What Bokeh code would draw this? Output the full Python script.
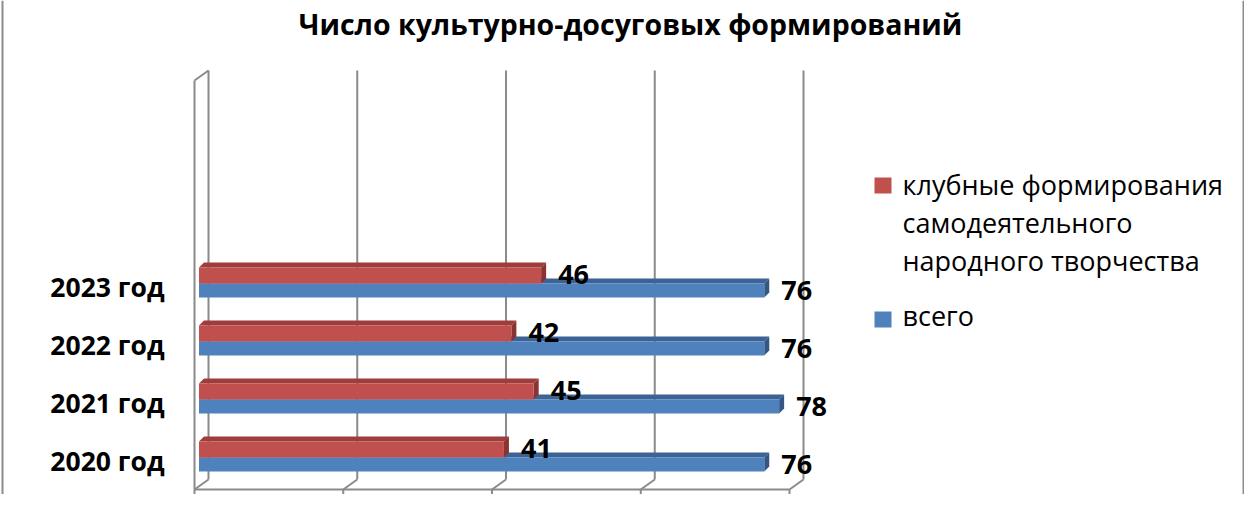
from bokeh.plotting import figure
from bokeh.models import Range1d
from bokeh.core.properties import value
from bokeh.embed import file_html
from bokeh.resources import INLINE

# ---------------- data ----------------
title_text = "Число культурно-досуговых формирований"
categories = ["2020 год", "2021 год", "2022 год", "2023 год"]
club = [41, 45, 42, 46]
total = [76, 78, 76, 76]
legend_club = ["клубные формирования", "самодеятельного", "народного творчества"]
legend_total = "всего"
grid_values = [0, 20, 40, 60, 80]

# ---------------- geometry (picture pixels -> data) ----------------
W, H = 1244, 494
OFF = 0
X0 = 198.5          # x of value 0 on the bar front face
SX = 148.75 / 20    # px per unit
Y0 = 457            # y of first category's bar split
SY = 58             # px per category
TXT = 11            # text vertical correction (px)


def xd(px):
    return (px - X0) / SX


def yd(py):
    return (Y0 - py) / SY


def lx(px):
    return px / SX


def ly(py):
    return py / SY


RED = "#C0504D"
RED_TOP = "#9E3D3A"
RED_SIDE = "#8A3330"
BLUE = "#4F81BD"
BLUE_TOP = "#3B6396"
BLUE_SIDE = "#335782"
GRID = "#8A8A8A"

p = figure(width=W, height=H, x_range=Range1d(xd(OFF), xd(OFF + W)),
           y_range=Range1d(yd(OFF + H), yd(OFF)),
           output_backend="svg", toolbar_location=None,
           x_axis_type=None, y_axis_type=None, min_border=0,
           outline_line_color=None, background_fill_color="white",
           border_fill_color="white")
p.grid.visible = False

ks = list(range(len(categories)))

# ---------------- 3D walls / floor / grid ----------------
front_shift = -lx(4.5)
depth_x = lx(14)
y_floor_front, y_floor_back = yd(489), yd(479)
y_top_front, y_top_back = yd(80), yd(70)

gx_front = [g + front_shift for g in grid_values]
gx_back = [x + depth_x for x in gx_front]

# back wall gridlines
p.segment(x0=gx_back, y0=[y_floor_back] * len(gx_back), x1=gx_back,
          y1=[y_top_back] * len(gx_back), line_color=GRID, line_width=2)
# left side wall
p.segment(x0=[gx_front[0], gx_front[0]], y0=[y_floor_front, y_top_front],
          x1=[gx_front[0], gx_back[0]], y1=[y_top_front, y_top_back],
          line_color=GRID, line_width=2)
# floor front edge, diagonals, ticks
p.segment(x0=[gx_front[0]], y0=[y_floor_front], x1=[gx_front[-1]], y1=[y_floor_front],
          line_color=GRID, line_width=2)
p.segment(x0=gx_front, y0=[y_floor_front] * len(gx_front), x1=gx_back,
          y1=[y_floor_back] * len(gx_back), line_color=GRID, line_width=2)
p.segment(x0=gx_front, y0=[y_floor_front] * len(gx_front), x1=gx_front,
          y1=[yd(498)] * len(gx_front), line_color=GRID, line_width=2)

# ---------------- bars ----------------
dX, dY = lx(5), ly(5)
red_h, blue_h = ly(16), ly(14)


def faces(vals, top_off, bot_off):
    tops_x, tops_y, sides_x, sides_y = [], [], [], []
    for k, v in zip(ks, vals):
        t, b = k + top_off, k + bot_off
        tops_x.append([0, dX, v + dX, v])
        tops_y.append([t, t + dY, t + dY, t])
        sides_x.append([v, v + dX, v + dX, v])
        sides_y.append([t, t + dY, b + dY, b])
    return tops_x, tops_y, sides_x, sides_y


bt_x, bt_y, bs_x, bs_y = faces(total, 0, -blue_h)
p.patches(bt_x, bt_y, fill_color=BLUE_TOP, line_color=None)
p.patches(bs_x, bs_y, fill_color=BLUE_SIDE, line_color=None)
p.hbar(y=[k - blue_h / 2 for k in ks], height=blue_h, left=0, right=total,
       fill_color=BLUE, line_color=None)

rt_x, rt_y, rs_x, rs_y = faces(club, red_h, 0)
p.patches(rt_x, rt_y, fill_color=RED_TOP, line_color=None)
p.patches(rs_x, rs_y, fill_color=RED_SIDE, line_color=None)
p.hbar(y=[k + red_h / 2 for k in ks], height=red_h, left=0, right=club,
       fill_color=RED, line_color=None)

# ---------------- data labels ----------------
p.text(x=[v + lx(17) for v in club], y=[k - ly(2 - TXT) for k in ks],
       text=[str(v) for v in club], text_font=value("Open Sans"),
       text_font_style="bold", text_font_size="27px", text_color="black",
       text_align="left", text_baseline="alphabetic")
p.text(x=[v + lx(17) for v in total], y=[k - ly(17.5 - TXT) for k in ks],
       text=[str(v) for v in total], text_font=value("Open Sans"),
       text_font_style="bold", text_font_size="27px", text_color="black",
       text_align="left", text_baseline="alphabetic")

# ---------------- category labels ----------------
p.text(x=[xd(164)] * len(ks), y=[k - ly(14 - TXT) for k in ks], text=categories,
       text_font=value("Open Sans"), text_font_style="bold",
       text_font_size="26.5px", text_color="black",
       text_align="right", text_baseline="alphabetic")

# ---------------- legend ----------------
p.quad(left=[xd(874), xd(874)], right=[xd(891), xd(891)],
       top=[yd(177), yd(311)], bottom=[yd(193), yd(327)],
       fill_color=[RED, BLUE], line_color=None)
p.text(x=[xd(902)] * 4,
       y=[yd(195 - TXT), yd(233 - TXT), yd(271 - TXT), yd(326 - TXT)],
       text=legend_club + [legend_total], text_font=value("Open Sans"),
       text_font_size="27px", text_color="black",
       text_align="left", text_baseline="alphabetic")

# ---------------- title ----------------
p.text(x=[xd(630)], y=[yd(23)], text=[title_text], text_font=value("Open Sans"),
       text_font_style="bold", text_font_size="28.5px", text_color="black",
       text_align="center", text_baseline="alphabetic")

# ---------------- chart border (left/right edges) ----------------
p.segment(x0=[xd(2), xd(W - 1)], y0=[yd(0), yd(0)], x1=[xd(2), xd(W - 1)],
          y1=[yd(H), yd(H)], line_color="#8C8C8C", line_width=2)

open("out.html", "w").write(file_html(p, INLINE))
